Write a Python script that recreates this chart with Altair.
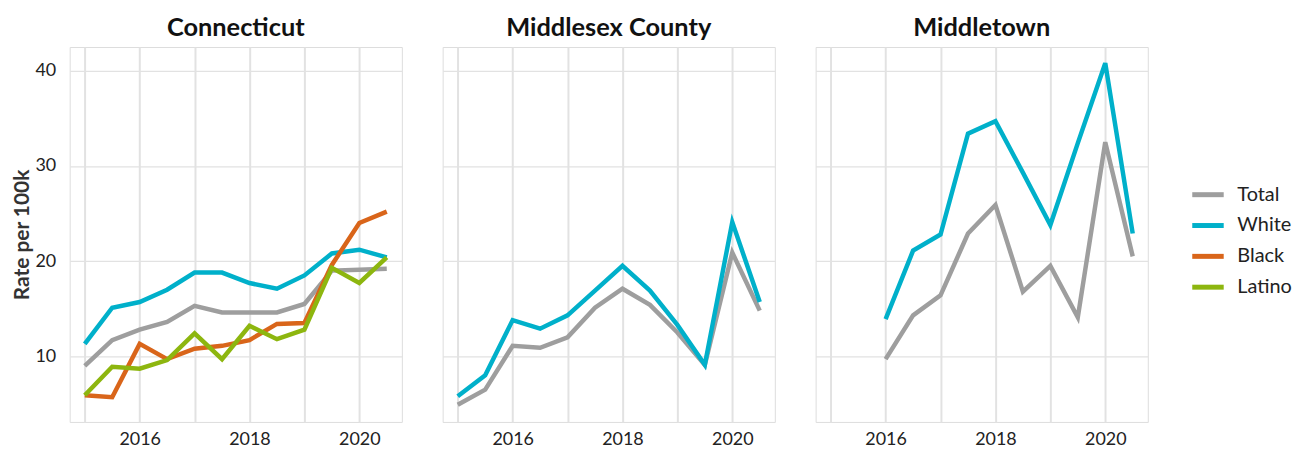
import altair as alt
import pandas as pd

years = [2015.0, 2015.5, 2016.0, 2016.5, 2017.0, 2017.5, 2018.0, 2018.5, 2019.0, 2019.5, 2020.0, 2020.5]
regions = ["Connecticut", "Middlesex County", "Middletown"]
groups = ["Total", "White", "Black", "Latino"]
colors = ["#9e9e9e", "#00b0ca", "#d9651a", "#8db60f"]

ct_total = [9.0, 11.7, 12.8, 13.6, 15.3, 14.6, 14.6, 14.6, 15.5, 19.0, 19.1, 19.2]
ct_white = [11.3, 15.1, 15.7, 17.0, 18.8, 18.8, 17.7, 17.1, 18.5, 20.8, 21.2, 20.4]
ct_black = [5.9, 5.7, 11.3, 9.7, 10.8, 11.1, 11.7, 13.4, 13.5, 19.6, 24.0, 25.2]
ct_latino = [5.9, 8.9, 8.7, 9.6, 12.4, 9.7, 13.2, 11.8, 12.8, 19.3, 17.7, 20.4]

mx_total = [4.9, 6.5, 11.1, 10.9, 12.0, 15.1, 17.1, 15.4, 12.5, 9.1, 20.9, 14.8]
mx_white = [5.8, 8.0, 13.8, 12.9, 14.3, 16.9, 19.5, 16.9, 13.3, 9.1, 24.1, 15.7]

mt_total = [None, None, 9.7, 14.3, 16.4, 22.9, 25.9, 16.8, 19.5, 14.1, 32.5, 20.5]
mt_white = [None, None, 13.9, 21.1, 22.8, 33.4, 34.7, 29.3, 23.8, 32.4, 40.8, 22.9]

series = {
    ("Connecticut", "Total"): ct_total,
    ("Connecticut", "White"): ct_white,
    ("Connecticut", "Black"): ct_black,
    ("Connecticut", "Latino"): ct_latino,
    ("Middlesex County", "Total"): mx_total,
    ("Middlesex County", "White"): mx_white,
    ("Middletown", "Total"): mt_total,
    ("Middletown", "White"): mt_white,
}

rows = []
for (reg, grp), vals in series.items():
    for yr, v in zip(years, vals):
        if v is not None:
            rows.append({"region": reg, "group": grp, "year": yr, "rate": v})
df = pd.DataFrame(rows)

FONT = "Lato"

base = alt.Chart(df).mark_line(strokeWidth=4.5, strokeJoin="miter", strokeCap="butt").encode(
    x=alt.X("year:Q", title=None,
            scale=alt.Scale(domain=[2014.725, 2020.775], nice=False, zero=False),
            axis=alt.Axis(values=[2015, 2016, 2017, 2018, 2019, 2020], format="d",
                          labelExpr="datum.value % 2 == 0 ? datum.label : ''",
                          grid=True, gridColor="#e2e2e2", gridWidth=2, domain=False, ticks=False,
                          labelFontSize=18, labelColor="#222222", labelPadding=8, labelFont=FONT)),
    y=alt.Y("rate:Q", title="Rate per 100k",
            scale=alt.Scale(domain=[3.1, 42.5], nice=False, zero=False),
            axis=alt.Axis(values=[10, 20, 30, 40], grid=True, gridColor="#e2e2e2", gridWidth=1.2,
                          domain=False, ticks=False, labelFontSize=18, labelColor="#222222",
                          labelPadding=13, labelFont=FONT, titleFont=FONT, titleFontSize=21,
                          titleFontWeight="bold", titleColor="#333333", titlePadding=3)),
    color=alt.Color("group:N", title=None,
                    scale=alt.Scale(domain=groups, range=colors),
                    legend=alt.Legend(orient="none", legendX=1126, legendY=130,
                                      symbolType="stroke", symbolStrokeWidth=5, symbolSize=1000,
                                      labelFontSize=20, labelFont=FONT, labelColor="#222222",
                                      rowPadding=2, labelOffset=11)),
    detail="group:N",
).properties(width=334, height=377)

chart = base.facet(
    column=alt.Column("region:N", sort=regions, title=None,
                      header=alt.Header(labelFontSize=25.5, labelFontWeight="bold", labelFont=FONT,
                                        labelColor="#111111", labelPadding=5))
).properties(spacing=39, padding={"left": 3, "top": 6, "right": 5, "bottom": 0}
).configure_view(stroke=None).configure(background="white")

chart.save("out.html", embed_options={"renderer": "svg", "actions": False})
